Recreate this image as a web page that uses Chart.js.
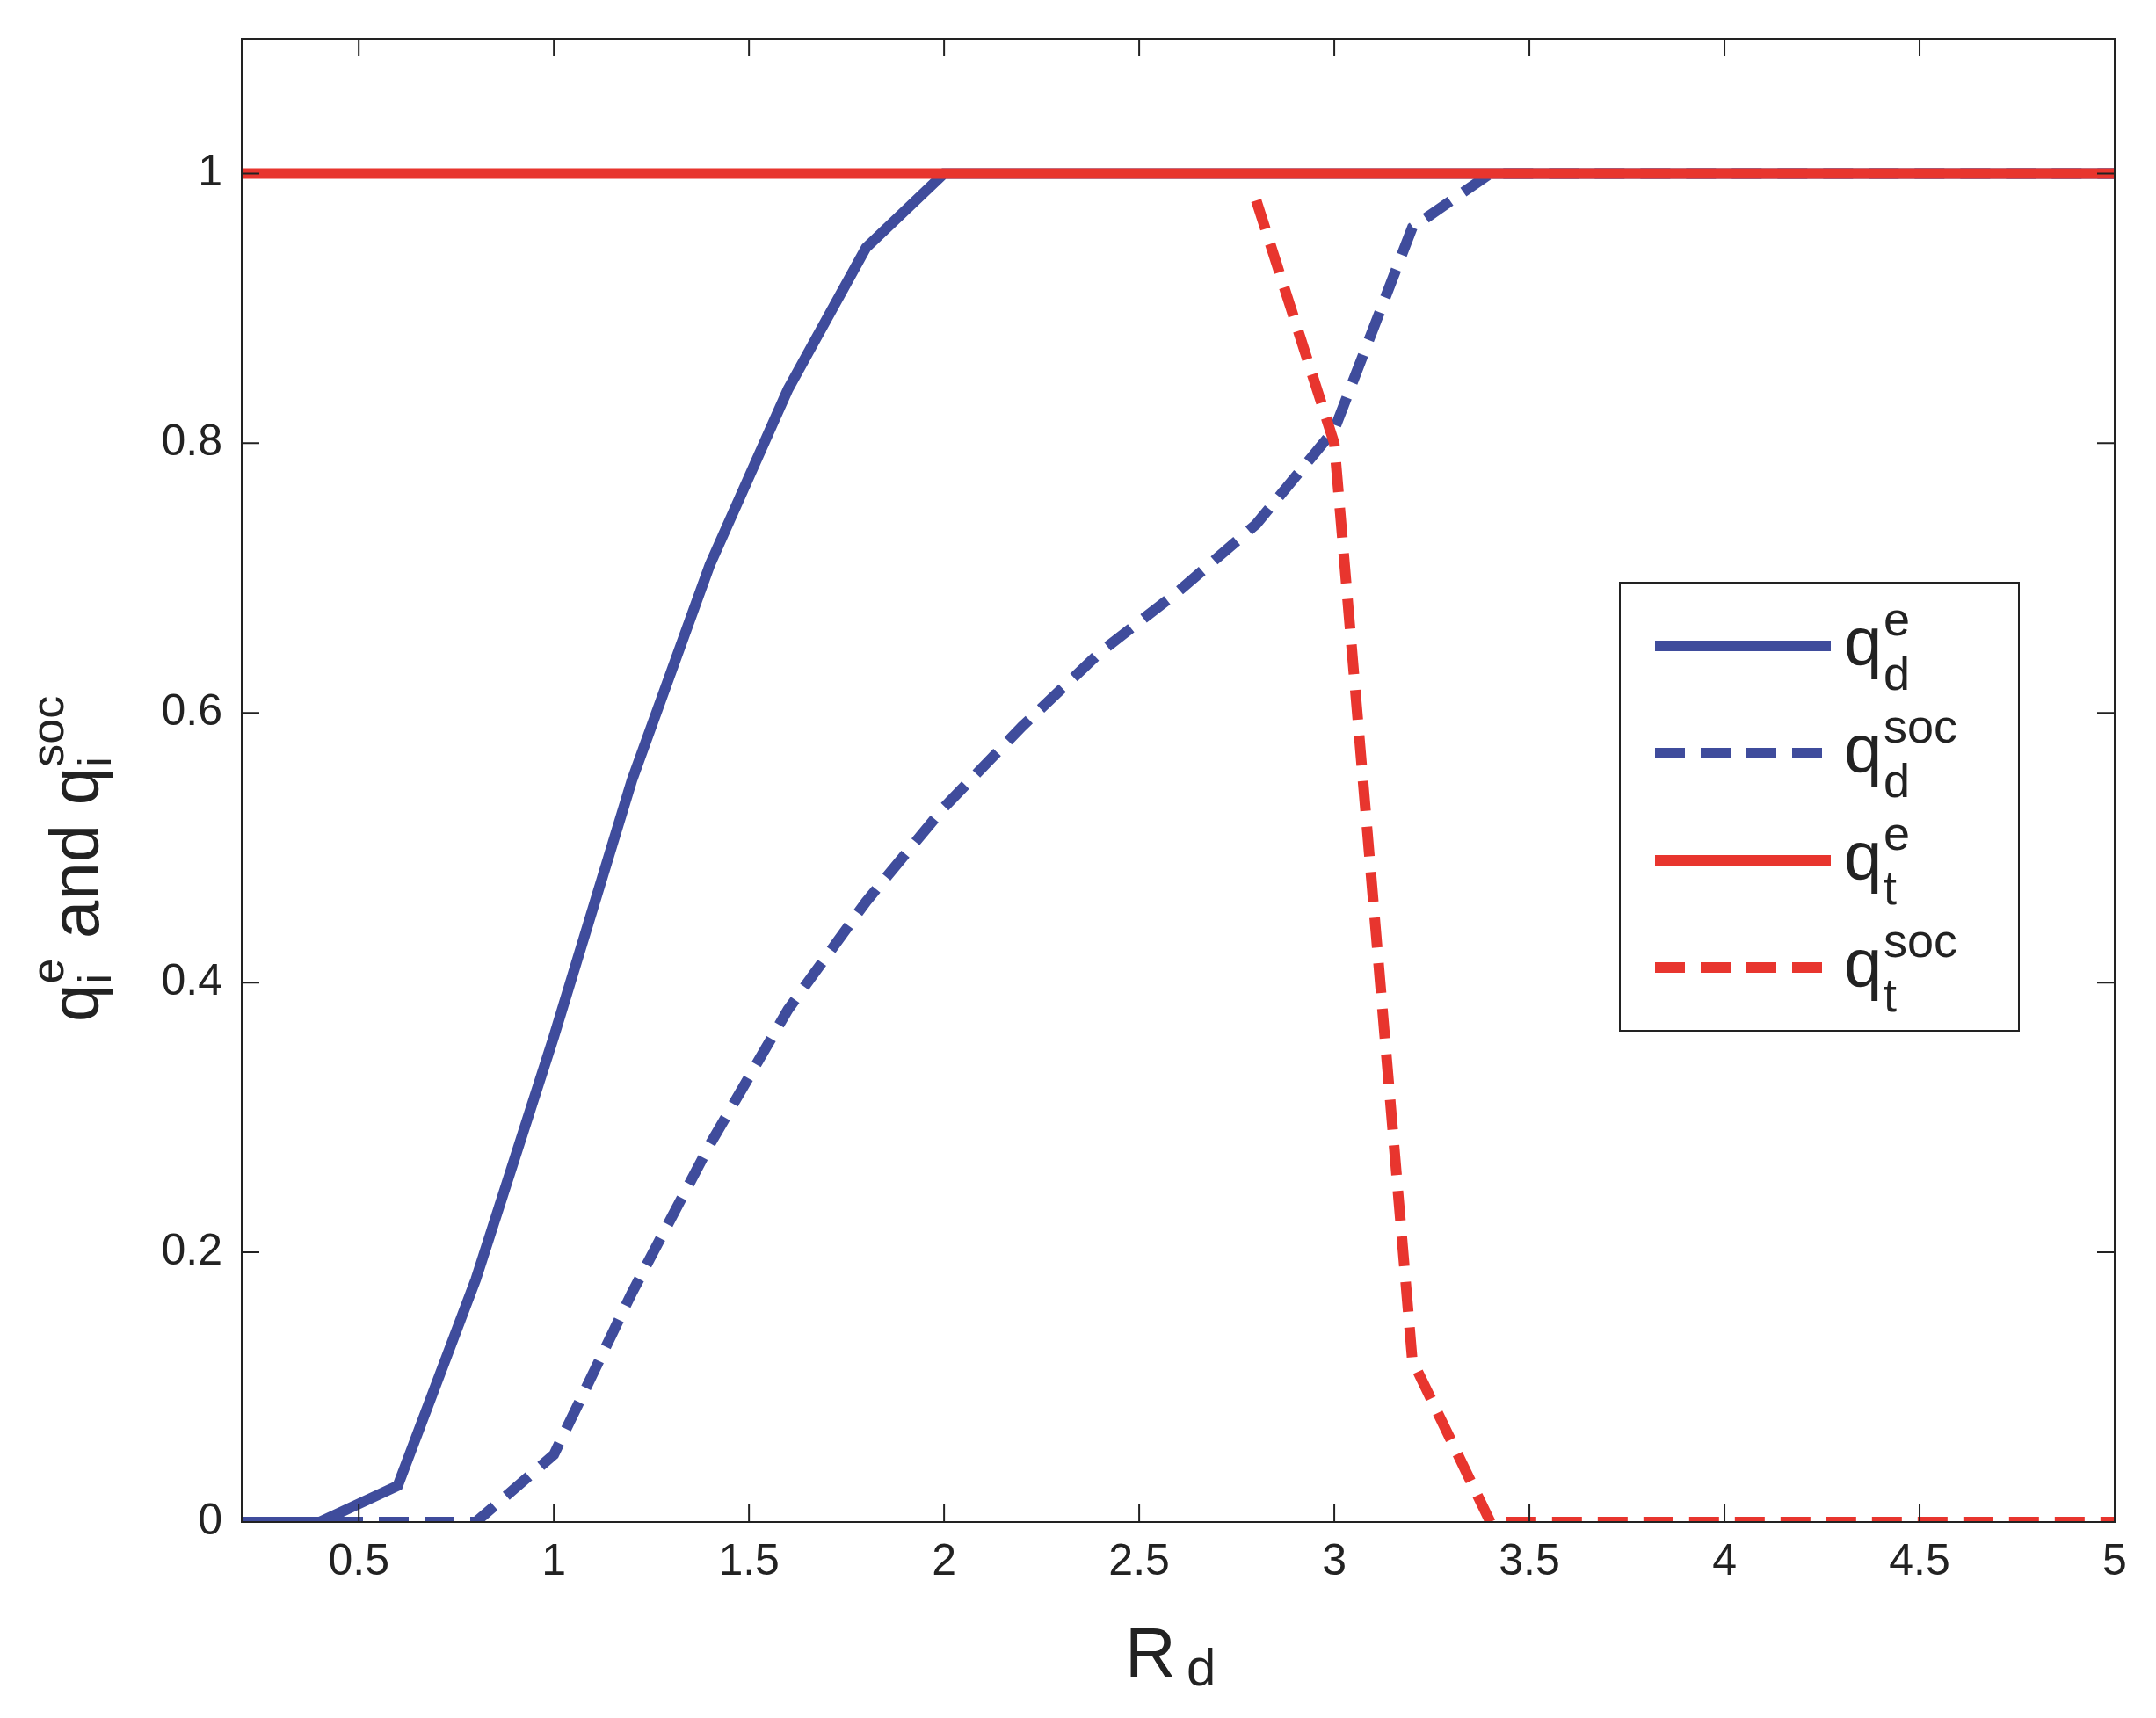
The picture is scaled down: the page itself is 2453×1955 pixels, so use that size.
<!DOCTYPE html>
<html><head><meta charset="utf-8">
<script src="https://cdn.jsdelivr.net/npm/chart.js@4/dist/chart.umd.min.js"></script>
<style>html,body{margin:0;padding:0;background:#fff}</style>
</head><body>
<canvas id="c" width="2453" height="1955"></canvas>
<script>
const xVals = [0.2,0.4,0.6,0.8,1.0,1.2,1.4,1.6,1.8,2.0,2.2,2.4,2.6,2.8,3.0,3.2,3.4,3.6,3.8,4.0,4.2,4.4,4.6,4.8,5.0];
const qdE   = [0,0,0.027,0.18,0.36,0.55,0.71,0.84,0.945,1,1,1,1,1,1,1,1,1,1,1,1,1,1,1,1];
const qdSoc = [0,0,0,0,0.05,0.17,0.28,0.38,0.46,0.53,0.59,0.645,0.69,0.74,0.81,0.96,1,1,1,1,1,1,1,1,1];
const qtE   = [1,1,1,1,1,1,1,1,1,1,1,1,1,1,1,1,1,1,1,1,1,1,1,1,1];
const qtSoc = [null,null,null,null,null,null,null,null,null,null,null,null,null,0.98,0.8,0.12,0,0,0,0,0,0,0,0,0];
const xTicks = [0.5,1,1.5,2,2.5,3,3.5,4,4.5,5];
const yTicks = [0,0.2,0.4,0.6,0.8,1];
const BLUE='#3f4c9c', RED='#e8352e';
const pts = ys => xVals.map((x,i)=>({x, y: ys[i]}));
const FONT='"Liberation Sans", Arial, sans-serif';

const deco = {
  id:'deco',
  afterDraw(ch){
    const c=ch.ctx, a=ch.chartArea, xs=ch.scales.x, ys=ch.scales.y;
    c.save();
    c.strokeStyle='#222'; c.lineWidth=2;
    c.strokeRect(a.left,a.top,a.right-a.left,a.bottom-a.top);
    c.beginPath();
    xTicks.forEach(v=>{const p=xs.getPixelForValue(v);c.moveTo(p,a.bottom);c.lineTo(p,a.bottom-20);c.moveTo(p,a.top);c.lineTo(p,a.top+20);});
    yTicks.forEach(v=>{const p=ys.getPixelForValue(v);c.moveTo(a.left,p);c.lineTo(a.left+20,p);c.moveTo(a.right,p);c.lineTo(a.right-20,p);});
    c.stroke();
    c.fillStyle='#222'; c.textBaseline='alphabetic';
    c.font='80px '+FONT; c.fillText('R',1280,1908);
    c.font='60px '+FONT; c.fillText('d',1350,1918);
    c.translate(112,(a.top+a.bottom)/2+10); c.rotate(-Math.PI/2);
    c.textAlign='left';
    let x=-265;
    const seg=(t,size,dy)=>{c.font=size+'px '+FONT;c.fillText(t,x,dy);x+=c.measureText(t).width;};
    seg('q',78,0); let x0=x; seg('e',52,-40); x=x0; seg('i',52,14); x=x0+30;
    seg(' and q',78,0); x0=x; seg('soc',52,-40); x=x0; seg('i',52,14);
    c.restore();
    c.save();
    const L=1843,T=663,W=454,H=510;
    c.fillStyle='#fff'; c.fillRect(L,T,W,H);
    c.strokeStyle='#222'; c.lineWidth=2; c.strokeRect(L,T,W,H);
    const items=[[BLUE,false,'d','e'],[BLUE,true,'d','soc'],[RED,false,'t','e'],[RED,true,'t','soc']];
    items.forEach((it,i)=>{
      const yy=T+72+i*122;
      c.strokeStyle=it[0]; c.lineWidth=12; c.setLineDash(it[1]?[34,18]:[]);
      c.beginPath(); c.moveTo(L+40,yy); c.lineTo(L+240,yy); c.stroke();
      c.setLineDash([]); c.fillStyle='#222';
      c.font='78px '+FONT; c.fillText('q',L+255,yy+22);
      c.font='54px '+FONT; c.fillText(it[3],L+300,yy-12); c.fillText(it[2],L+300,yy+50);
    });
    c.restore();
  }
};

new Chart(document.getElementById('c'),{
  type:'line',
  data:{datasets:[
    {data:pts(qtE),borderColor:RED,borderWidth:12},
    {data:pts(qtSoc),borderColor:RED,borderWidth:12,borderDash:[34,18],spanGaps:false},
    {data:pts(qdSoc),borderColor:BLUE,borderWidth:12,borderDash:[34,18]},
    {data:pts(qdE),borderColor:BLUE,borderWidth:12}
  ]},
  options:{
    responsive:false, devicePixelRatio:1, animation:false,
    elements:{point:{radius:0},line:{tension:0,fill:false}},
    layout:{padding:{top:42,right:47,left:0,bottom:0}},
    plugins:{legend:{display:false},tooltip:{enabled:false}},
    scales:{
      x:{type:'linear',min:0.2,max:5,
        afterBuildTicks:s=>{s.ticks=xTicks.map(v=>({value:v}));},
        afterFit:s=>{s.height=1955-1732;},
        grid:{display:false},border:{display:false},
        ticks:{font:{size:50,family:FONT},color:'#222',padding:8,maxRotation:0,callback:v=>String(v)}},
      y:{type:'linear',min:0,max:1.1,
        afterBuildTicks:s=>{s.ticks=yTicks.map(v=>({value:v}));},
        afterFit:s=>{s.width=275;},
        grid:{display:false},border:{display:false},
        ticks:{font:{size:50,family:FONT},color:'#222',padding:14,callback:v=>String(v)}}
    }
  },
  plugins:[deco]
});
</script>
</body></html>
